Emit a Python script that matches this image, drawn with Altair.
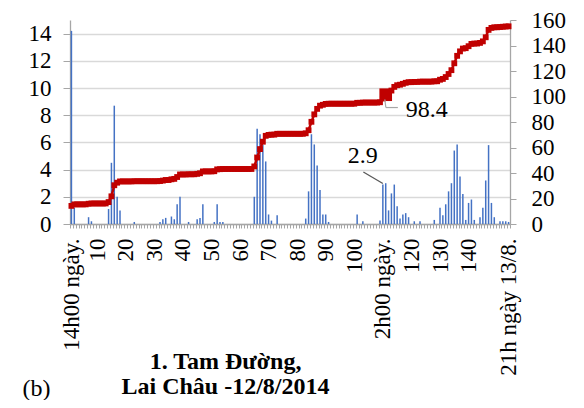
import altair as alt
import pandas as pd

# ---- data ----
n_cats = 154
bar_index = [1, 2, 7, 8, 14, 15, 16, 17, 18, 23, 32, 33, 34, 36, 37, 38, 39, 42, 45, 46, 47,
             51, 52, 53, 54, 65, 66, 67, 68, 69, 70, 71, 73, 83, 84, 85, 86, 87, 88, 89, 90, 91,
             101, 103, 109, 110, 111, 112, 113, 114, 115, 116, 117, 118, 119, 121, 123, 128,
             130, 131, 132, 133, 134, 135, 136, 137, 138, 139, 140, 141, 142, 144, 145, 146,
             147, 148, 149, 151, 152, 153, 154]
bar_value = [14.2, 1.2, 0.5, 0.2, 1.1, 4.5, 8.7, 2.0, 1.0, 0.15, 0.15, 0.35, 0.45, 0.55, 0.35, 1.45, 2.0, 0.15, 0.35, 0.45, 1.45,
             0.15, 1.45, 0.15, 0.15, 2.0, 7.0, 6.6, 5.8, 4.6, 0.7, 0.25, 0.65, 0.4, 2.4, 6.6, 5.85, 4.3, 2.5, 0.7, 0.7, 0.15,
             0.7, 0.2, 0.25, 2.9, 3.0, 1.0, 2.25, 2.9, 1.3, 0.4, 0.7, 0.8, 0.5, 0.2, 0.2, 0.3,
             1.2, 0.65, 1.45, 2.4, 3.0, 5.4, 5.85, 3.5, 2.2, 0.3, 1.55, 1.8, 0.3, 0.5, 1.2, 3.2,
             5.8, 1.55, 0.5, 0.2, 0.2, 0.2, 0.15]
label_pos = [1, 10, 20, 30, 40, 50, 60, 70, 80, 90, 100, 110, 120, 130, 140, 154]
label_text = ["14h00 ngày.", "10", "20", "30", "40", "50", "60", "70", "80", "90", "100",
              "2h00 ngày.", "120", "130", "140", "21h ngày 13/8."]
left_ticks = [0, 2, 4, 6, 8, 10, 12, 14]
right_ticks = [0, 20, 40, 60, 80, 100, 120, 140, 160]
title_lines = ["1. Tam Đường,", "Lai Châu -12/8/2014"]
panel_tag = "(b)"
label_bar_idx = 110      # "2.9" bar and "98.4" cumulative point
highlight_idx = 111      # enlarged marker

cats = list(range(1, n_cats + 1))
vals = dict(zip(bar_index, bar_value))
df = pd.DataFrame({"i": cats, "rain": [vals.get(c, 0.0) for c in cats]})

FONT = "Liberation Serif"
BLUE = "#4472C4"
RED = "#C00000"

expr = " : ".join(f"datum.value == {p} ? '{t}'" for p, t in zip(label_pos, label_text)) + " : ''"

X = alt.X("i:O",
          scale=alt.Scale(domain=cats, paddingInner=0, paddingOuter=0),
          axis=alt.Axis(labelExpr=expr, labelAngle=-90, labelAlign="right", labelBaseline="middle",
                        labelPadding=10, labelFont=FONT, labelFontSize=23, labelOverlap=False,
                        tickSize=4, tickBand="extent", grid=False,
                        title=panel_tag, titleX=-48, titleY=171, titleAlign="left",
                        titleBaseline="alphabetic", titleAngle=0, titleFont=FONT,
                        titleFontWeight="normal", titleFontSize=24))

YL = alt.Y("rain:Q",
           scale=alt.Scale(domain=[0, 15], nice=False),
           axis=alt.Axis(orient="left", values=left_ticks, grid=True, gridColor="#d9d9d9",
                         gridWidth=1.5, tickSize=7, labelPadding=12, labelFont=FONT,
                         labelFontSize=23,
                         title=title_lines, titleAngle=0, titleX=155, titleY=348,
                         titleAlign="center", titleBaseline="alphabetic", titleFont=FONT,
                         titleFontWeight="bold", titleFontSize=24, titleLineHeight=25))

YR = alt.Y("cum:Q",
           scale=alt.Scale(domain=[0, 160], nice=False),
           axis=alt.Axis(orient="right", values=right_ticks, grid=False, tickSize=6,
                         labelPadding=15, labelFont=FONT, labelFontSize=23, title=None))

base = alt.Chart(df)

bars = base.mark_bar(size=1.5, color=BLUE).encode(x=X, y=YL)
sel_bar = base.transform_filter(f"datum.i == {label_bar_idx}")
txt29 = sel_bar.mark_text(font=FONT, fontSize=24, dx=-20, dy=-29, color="black").encode(
    x=X, y=YL, text=alt.Text("rain:Q", format=".1f"))
rule29 = sel_bar.mark_rule(color="#595959", strokeWidth=1.3, yOffset=-1,
                           x2Offset=-19.5, y2Offset=-12.5).encode(
    x=X, y=YL, x2="i:O", y2="rain:Q")
left_layer = alt.layer(bars, rule29, txt29)

cum = base.transform_window(cum="sum(rain)", sort=[alt.SortField("i")], frame=[None, 0])
line = cum.mark_line(color=RED, strokeWidth=2.5,
                     point=alt.OverlayMarkDef(shape="square", size=34, filled=True, color=RED)).encode(
    x=X, y=YR)
sel_pt = cum.transform_filter(f"datum.i == {label_bar_idx}")
big = cum.transform_filter(f"datum.i == {highlight_idx}").mark_point(
    shape="square", size=160, filled=True, color=RED, opacity=1).encode(x=X, y=YR)
rule98a = sel_pt.mark_rule(color="#a6a6a6", strokeWidth=1.2, xOffset=2, yOffset=1,
                           x2Offset=3, y2Offset=9).encode(x=X, y=YR, x2="i:O", y2="cum:Q")
rule98b = sel_pt.mark_rule(color="#a6a6a6", strokeWidth=1.2, xOffset=3, yOffset=9,
                           x2Offset=15, y2Offset=9).encode(x=X, y=YR, x2="i:O", y2="cum:Q")
txt98 = sel_pt.mark_text(font=FONT, fontSize=24, dx=44, dy=11, color="black").encode(
    x=X, y=YR, text=alt.Text("cum:Q", format=".1f"))
right_layer = alt.layer(line, big, rule98a, rule98b, txt98)

chart = alt.layer(left_layer, right_layer).resolve_scale(y="independent").properties(
    width=440, height=204,
    autosize=alt.AutoSizeParams(type="none"),
    padding={"left": 62, "top": 12, "right": 66, "bottom": 176},
    background="white",
).configure_view(strokeWidth=0).configure_axis(
    labelFont=FONT, titleFont=FONT, labelColor="black", titleColor="black",
    domainColor="#a6a6a6", tickColor="#a6a6a6", domainWidth=1.3, tickWidth=1
).configure_text(font=FONT)

chart.save("out.html", embed_options={"renderer": "svg", "actions": False})
